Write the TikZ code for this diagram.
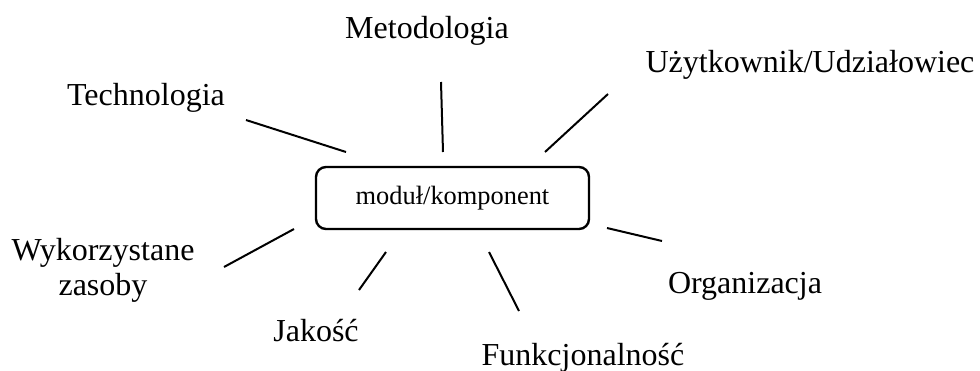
\documentclass[tikz,border=0pt]{standalone}
\usepackage{fontspec}
\setmainfont{Liberation Serif}
\usetikzlibrary{positioning}
\tikzset{
  aspect/.style={font=\fontsize{16}{17.5}\selectfont, align=center, inner sep=0pt},
  modbox/.style={draw, rounded corners=5pt, line width=1.2pt, minimum width=136.5pt,
    minimum height=31pt, inner sep=0pt, font=\fontsize{13.2}{16}\selectfont},
  spoke/.style={line width=1pt}
}

\begin{document}
\begin{tikzpicture}[x=0.5pt,y=-0.5pt]
  \useasboundingbox (0,0) rectangle (980,370);
  \node[modbox] (mod) at (452.5,198) {moduł/komponent};
  % aspects
  \node[aspect] (tech) at (146,98) {Technologia};
  \node[aspect] (meto) at (427,31) {Metodologia};
  \node[aspect] (user) at (810,65) {Użytkownik/Udziałowiec};
  \node[aspect] (zas) at (103,270) {Wykorzystane\\zasoby};
  \node[aspect] (org) at (745,286) {Organizacja};
  \node[aspect] (jak) at (316,331) {Jakość};
  \node[aspect] (funk) at (583,358) {Funkcjonalność};
  % spokes
  \coordinate (t1) at (246,120); \coordinate (t2) at (346,152);
  \coordinate (m1) at (441,82);  \coordinate (m2) at (443,152);
  \coordinate (u1) at (608,94);  \coordinate (u2) at (545,152);
  \coordinate (o1) at (607,228); \coordinate (o2) at (662,241);
  \coordinate (z1) at (294,229); \coordinate (z2) at (224,267);
  \coordinate (j1) at (386,252); \coordinate (j2) at (359,290);
  \coordinate (f1) at (489,252); \coordinate (f2) at (519,311);
  \foreach \a/\b in {t1/t2,m1/m2,u1/u2,o1/o2,z1/z2,j1/j2,f1/f2}
    \draw[spoke] (\a) -- (\b);
\end{tikzpicture}
\end{document}
